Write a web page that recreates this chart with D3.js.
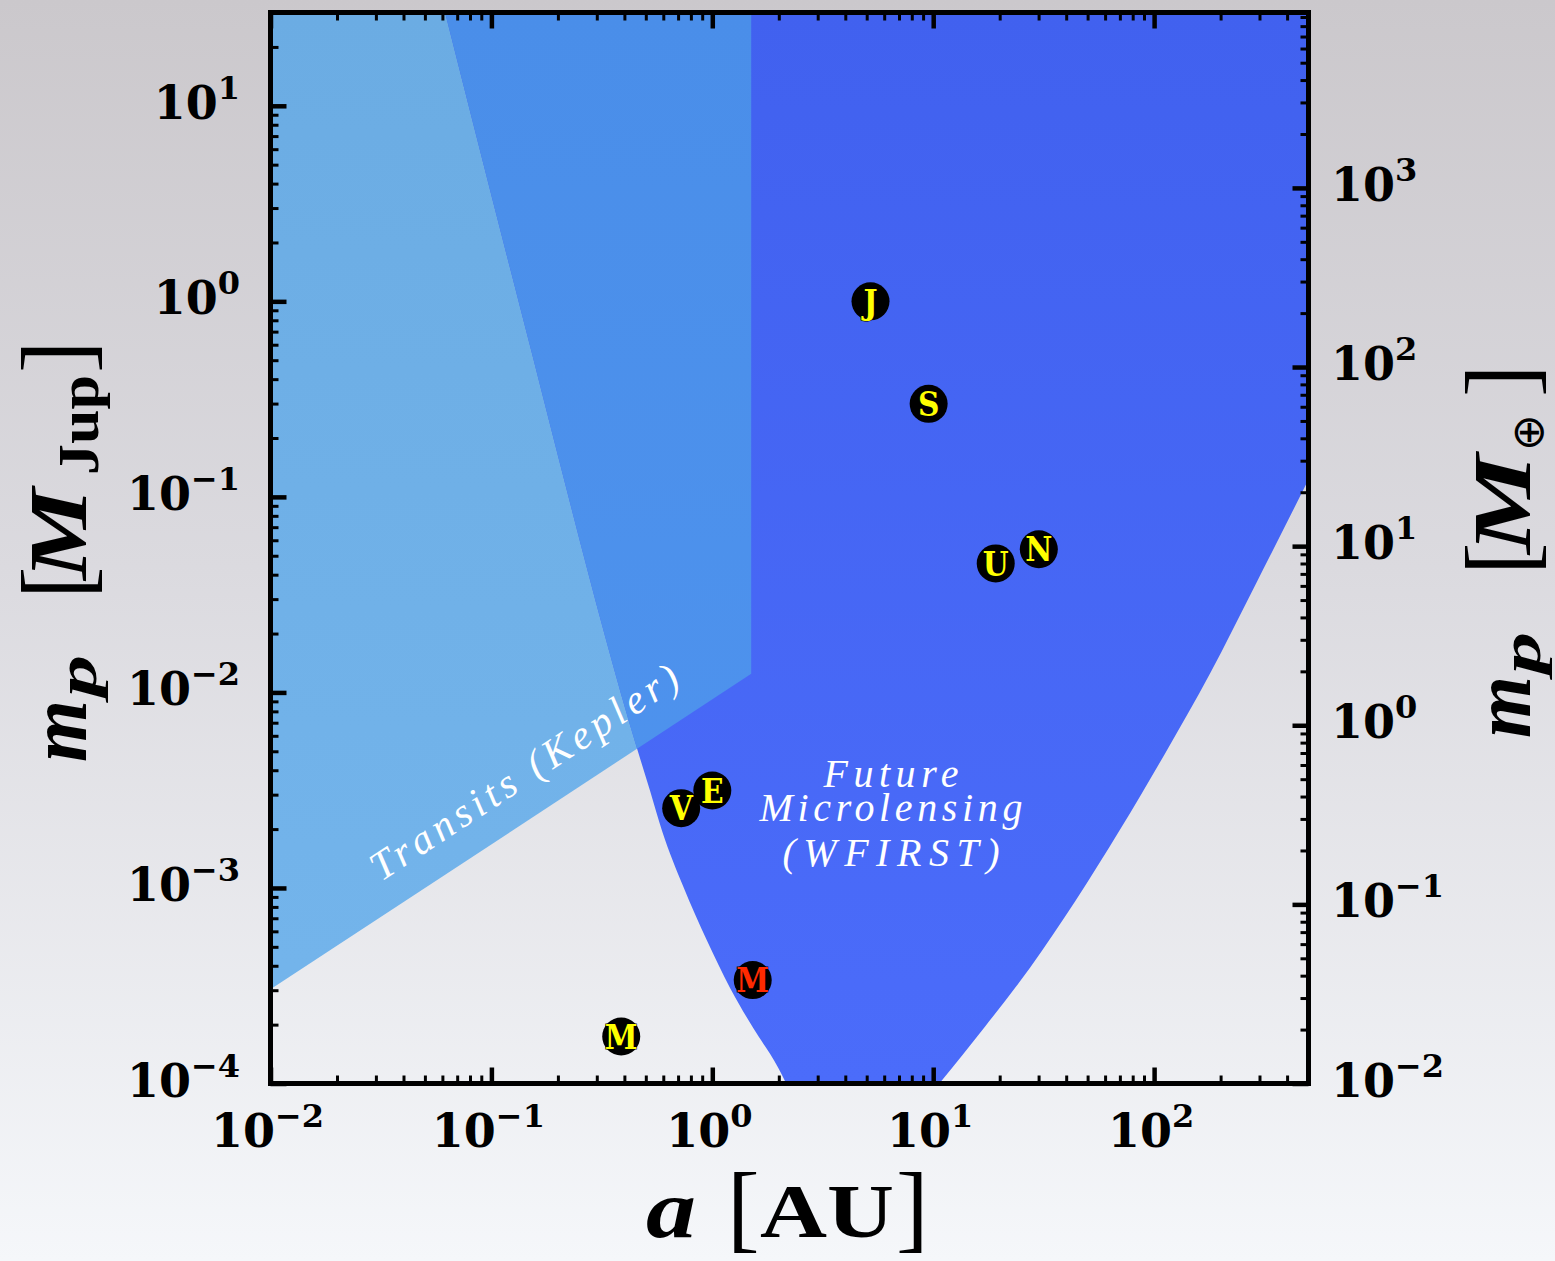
<!DOCTYPE html>
<html>
<head>
<meta charset="utf-8">
<script src="https://cdn.jsdelivr.net/npm/d3@7"></script>
<style>
  html, body { margin: 0; padding: 0; }
  body { width: 1555px; height: 1261px; overflow: hidden; }
  svg { display: block; }
</style>
</head>
<body>
<svg id="chart" width="1555" height="1261"></svg>
<script>
// ---- data -------------------------------------------------------------
// Solar-system planets: semi-major axis [AU] and mass [M_Jup]
const planetLetters = ["M", "V", "E", "M", "J", "S", "U", "N"];
const planetA       = [0.387, 0.723, 1.0, 1.524, 5.203, 9.537, 19.19, 30.07];
const planetMass    = [1.74e-4, 2.56e-3, 3.15e-3, 3.38e-4, 1.0, 0.299, 0.0457, 0.054];
const planetInk     = ["#ffff00", "#ffff00", "#ffff00", "#ff2a00", "#ffff00", "#ffff00", "#ffff00", "#ffff00"];

// Transit (Kepler) sensitivity region, [a, m_p] corners
const transitRegion = [[0.01, 30], [1.5, 30], [1.5, 0.01245], [0.01, 3.03e-4]];

// Microlensing (WFIRST) sensitivity: inner and outer edges, [a, m_p]
const lensingInner = [[0.0617, 30], [0.1349, 0.931], [0.457, 5.14e-3],
  [0.523, 3.13e-3], [0.593, 1.95e-3], [0.738, 1.02e-3],
  [0.948, 5.35e-4], [1.205, 3.07e-4], [1.532, 1.92e-4], [1.99, 1.2e-4], [2.16, 1e-4]];
const lensingOuter = [[10.66, 1e-4], [17.22, 1.963e-4], [27.54, 3.935e-4], [44.01, 8.57e-4],
  [70.38, 2.0e-3], [112.5, 4.905e-3], [179.9, 0.0126], [287.6, 0.03555], [500, 0.1226]];

// axis ranges and tick labels (powers of ten)
const aRange = [0.01, 500];
const mRange = [1e-4, 30];
const mEarthPerJup = 317.8;
const earthRange = [0.01, 30 * mEarthPerJup];
const xTickExp = [-2, -1, 0, 1, 2];
const yTickExp = [-4, -3, -2, -1, 0, 1];
const yRightTickExp = [-2, -1, 0, 1, 2, 3];

// ---- layout -----------------------------------------------------------
const L = 270.5, R = 1308.5, T = 12.5, B = 1083.5;
const svg = d3.select("#chart");
const defs = svg.append("defs");

const x = d3.scaleLog().domain(aRange).range([L, R]);
const y = d3.scaleLog().domain(mRange).range([B, T]);
const yE = d3.scaleLog().domain(earthRange).range([B, T]);

// page background
const bg = defs.append("linearGradient").attr("id", "bg")
  .attr("x1", 0).attr("y1", 0).attr("x2", 0).attr("y2", 1);
bg.append("stop").attr("offset", "0%").attr("stop-color", "#cbc8cc");
bg.append("stop").attr("offset", "45%").attr("stop-color", "#dbdadf");
bg.append("stop").attr("offset", "100%").attr("stop-color", "#f5f7fa");
svg.append("rect").attr("width", 1555).attr("height", 1261).attr("fill", "url(#bg)");

function vgrad(id, top, bottom) {
  const g = defs.append("linearGradient").attr("id", id)
    .attr("gradientUnits", "userSpaceOnUse")
    .attr("x1", 0).attr("y1", T).attr("x2", 0).attr("y2", B);
  g.append("stop").attr("offset", 0).attr("stop-color", top);
  g.append("stop").attr("offset", 1).attr("stop-color", bottom);
}
vgrad("gTransit", "#6bace3", "#74b5ec");
vgrad("gLens", "#4161ef", "#4b6cfa");
vgrad("gBoth", "#4a8ee9", "#4f94ef");

defs.append("clipPath").attr("id", "plotClip")
  .append("rect").attr("x", L).attr("y", T).attr("width", R - L).attr("height", B - T);

const px = d => x(d[0]), py = d => y(d[1]);
const straight = d3.line().x(px).y(py);
const smooth = d3.line().x(px).y(py).curve(d3.curveMonotoneX);

const transitPath = straight(transitRegion) + "Z";
const lensPath = smooth(lensingInner) + "L" + smooth(lensingOuter).slice(1) +
  "L" + x(aRange[1]) + "," + y(mRange[1]) + "Z";

defs.append("clipPath").attr("id", "transitClip").append("path").attr("d", transitPath);

const regions = svg.append("g").attr("clip-path", "url(#plotClip)");
regions.append("path").attr("d", transitPath).attr("fill", "url(#gTransit)");
regions.append("path").attr("d", lensPath).attr("fill", "url(#gLens)");
regions.append("g").attr("clip-path", "url(#transitClip)")
  .append("path").attr("d", lensPath).attr("fill", "url(#gBoth)");

// region captions
const mathItalic = "'Liberation Serif', 'Times New Roman', serif";
regions.append("text")
  .attr("transform", "translate(381,882) rotate(-33.2)")
  .attr("font-family", mathItalic).attr("font-style", "italic")
  .attr("font-size", 41).attr("fill", "#ffffff")
  .attr("textLength", 360).attr("lengthAdjust", "spacing")
  .text("Transits (Kepler)");

const lensCaption = [
  { t: "Future", y: 787, len: 135 },
  { t: "Microlensing", y: 821, len: 263 },
  { t: "(WFIRST)", y: 866, len: 217 }
];
regions.selectAll("text.lens").data(lensCaption).join("text")
  .attr("class", "lens")
  .attr("x", 891).attr("y", d => d.y)
  .attr("text-anchor", "middle")
  .attr("font-family", mathItalic).attr("font-style", "italic")
  .attr("font-size", 40).attr("fill", "#ffffff")
  .attr("textLength", d => d.len).attr("lengthAdjust", "spacing")
  .text(d => d.t);

// planets
const planets = planetLetters.map((c, i) => ({ c, a: planetA[i], m: planetMass[i], ink: planetInk[i] }));
const pg = svg.append("g").selectAll("g").data(planets).join("g")
  .attr("transform", d => `translate(${x(d.a)},${y(d.m)})`);
pg.append("circle").attr("r", 19).attr("fill", "#000000");
pg.append("text")
  .attr("text-anchor", "middle").attr("dy", "0.37em")
  .attr("font-family", "'DejaVu Serif Condensed', 'DejaVu Serif', serif")
  .attr("font-stretch", "condensed")
  .attr("font-weight", "bold").attr("font-size", 33)
  .attr("fill", d => d.ink)
  .attr("stroke", "#000").attr("stroke-width", 1.2).attr("paint-order", "stroke")
  .text(d => d.c);

// ---- ticks ------------------------------------------------------------
function isMajor(v) { const e = Math.log10(v); return Math.abs(e - Math.round(e)) < 1e-6; }
const xTicks = x.ticks(), yTicks = y.ticks(), yETicks = yE.ticks();

function tickGroup(axisFn, scale, vals, size, width, tr) {
  const g = svg.append("g").attr("transform", tr)
    .call(axisFn(scale).tickValues(vals).tickSize(-size).tickFormat(""));
  g.select(".domain").remove();
  g.selectAll(".tick line").attr("stroke", "#000").attr("stroke-width", width);
}
const majMin = (vals) => [vals.filter(isMajor), vals.filter(v => !isMajor(v))];
const [xMaj, xMin] = majMin(xTicks);
const [yMaj, yMin] = majMin(yTicks);
const [eMaj, eMin] = majMin(yETicks);

tickGroup(d3.axisBottom, x, xMaj, 16, 4.5, `translate(0,${B})`);
tickGroup(d3.axisBottom, x, xMin, 8, 3, `translate(0,${B})`);
tickGroup(d3.axisTop, x, xMaj, 16, 4.5, `translate(0,${T})`);
tickGroup(d3.axisTop, x, xMin, 8, 3, `translate(0,${T})`);
tickGroup(d3.axisLeft, y, yMaj, 16, 4.5, `translate(${L},0)`);
tickGroup(d3.axisLeft, y, yMin, 8, 3, `translate(${L},0)`);
tickGroup(d3.axisRight, yE, eMaj, 16, 4.5, `translate(${R},0)`);
tickGroup(d3.axisRight, yE, eMin, 8, 3, `translate(${R},0)`);

// frame
svg.append("rect").attr("x", L).attr("y", T).attr("width", R - L).attr("height", B - T)
  .attr("fill", "none").attr("stroke", "#000").attr("stroke-width", 5);

// ---- tick labels ------------------------------------------------------
const numFont = "'DejaVu Serif', serif";
function powLabel(sel) {
  sel.attr("font-family", numFont).attr("font-weight", "bold").attr("font-size", 46).attr("fill", "#000");
  sel.append("tspan").text("10");
  sel.append("tspan").attr("font-size", 32).attr("dy", -20)
    .text(d => (d < 0 ? "\u2212" + (-d) : String(d)));
}
svg.append("g").selectAll("text").data(xTickExp).join("text")
  .attr("x", d => x(Math.pow(10, d)) - 3).attr("y", 1147)
  .attr("text-anchor", "middle").call(powLabel);
svg.append("g").selectAll("text").data(yTickExp).join("text")
  .attr("x", 240).attr("y", d => y(Math.pow(10, d)) + 13)
  .attr("text-anchor", "end").call(powLabel);
svg.append("g").selectAll("text").data(yRightTickExp).join("text")
  .attr("x", 1331).attr("y", d => yE(Math.pow(10, d)) + 13)
  .attr("text-anchor", "start").call(powLabel);

// ---- axis titles ------------------------------------------------------
const serif = "'Liberation Serif', 'Times New Roman', serif";
function piece(g, txt, opts) {
  const t = g.append("text").attr("x", opts.x).attr("y", opts.y || 0)
    .attr("font-family", opts.family || serif)
    .attr("font-size", opts.size)
    .attr("font-weight", opts.bold ? "bold" : "normal")
    .attr("font-style", opts.italic ? "italic" : "normal")
    .attr("fill", "#000").text(txt);
  if (opts.len) t.attr("textLength", opts.len).attr("lengthAdjust", "spacingAndGlyphs");
  return t;
}

// bottom: a [AU]
const xt = svg.append("g");
piece(xt, "a", { x: 646, y: 1237, size: 82, bold: true, italic: true, len: 50 });
piece(xt, "[", { x: 727, y: 1240, size: 98 });
piece(xt, "AU", { x: 760, y: 1237, size: 76, bold: true, len: 134 });
piece(xt, "]", { x: 896, y: 1240, size: 98 });

// left: m_p [M_Jup]  (reads bottom to top)
const lt = svg.append("g").attr("transform", "translate(86,1000) rotate(-90)");
piece(lt, "m", { x: 238, size: 82, bold: true, italic: true, len: 62 });
piece(lt, "p", { x: 303, y: 10, size: 58, bold: true, italic: true, len: 42 });
piece(lt, "[", { x: 401, y: 3, size: 98 });
piece(lt, "M", { x: 420, size: 82, bold: true, italic: true, len: 92 });
piece(lt, "Jup", { x: 525, y: 12, size: 56, bold: true, len: 100 });
piece(lt, "]", { x: 627, y: 3, size: 98 });

// right: m_p [M_earth]
const rt = svg.append("g").attr("transform", "translate(1530,1000) rotate(-90)");
piece(rt, "m", { x: 262, size: 82, bold: true, italic: true, len: 62 });
piece(rt, "p", { x: 326, y: 10, size: 58, bold: true, italic: true, len: 42 });
piece(rt, "[", { x: 425, y: 3, size: 98 });
piece(rt, "M", { x: 446, size: 82, bold: true, italic: true, len: 100 });
piece(rt, "\u2295", { x: 549, y: 13, size: 44, family: "'DejaVu Sans', sans-serif" });
piece(rt, "]", { x: 603, y: 3, size: 98 });
</script>
</body>
</html>
